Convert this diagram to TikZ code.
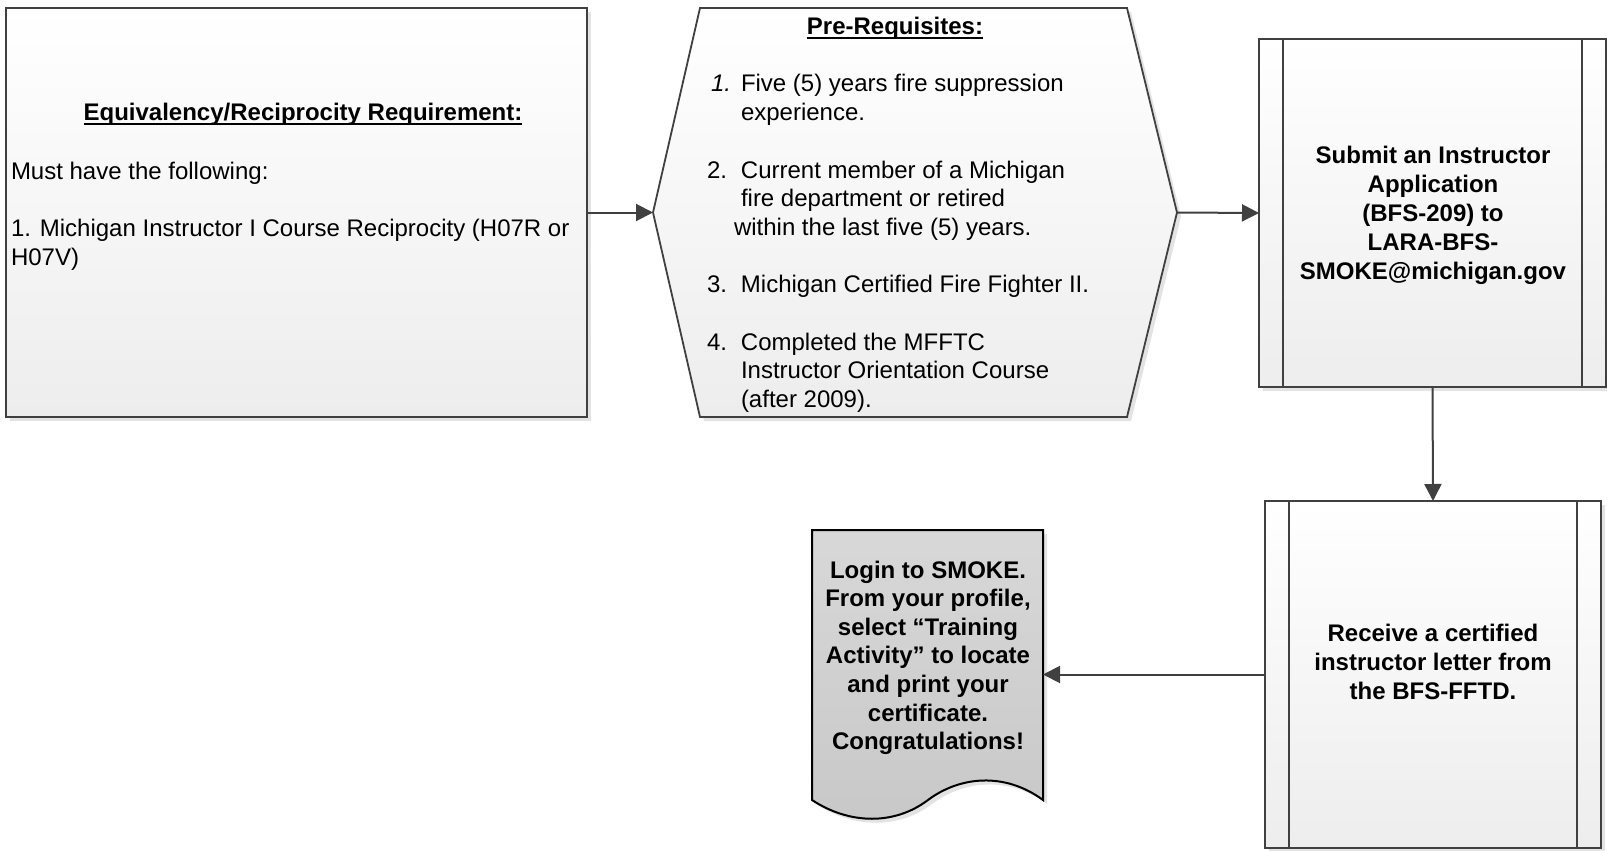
\documentclass[tikz,border=0pt]{standalone}
\usepackage{fontspec}
\setmainfont{Liberation Sans}
\usetikzlibrary{arrows.meta,calc,shadows}
\definecolor{lineC}{HTML}{404040}
\definecolor{shadebot}{HTML}{EDEDED}
\definecolor{docTop}{HTML}{D8D8D8}
\definecolor{docBot}{HTML}{C8C8C8}
\definecolor{shadowC}{HTML}{E3E3E3}
\newcommand\myul[1]{\setbox0\hbox{#1}\rlap{\rule[-4pt]{\wd0}{2pt}}\box0}
\begin{document}
\begin{tikzpicture}[x=1pt,y=-1pt,
  shapebox/.style={draw=lineC,line width=1.8pt,top color=white,bottom color=shadebot,
     drop shadow={shadow xshift=4pt,shadow yshift=-4pt,fill=shadowC,opacity=1}},
  ghost/.style={inner sep=0pt,outer sep=0pt},
  innerline/.style={draw=lineC,line width=1.8pt},
  txt/.style={inner sep=0pt,outer sep=0pt,font=\fontsize{24}{28.7}\selectfont},
  conn/.style={draw=lineC,line width=2pt,-{Triangle[length=17pt,width=17pt]}}]
\useasboundingbox (0,0) rectangle (1607,851);

% Box 1
\node[shapebox,ghost,minimum width=581pt,minimum height=409pt] (req) at (296.5,212.5) {};
% Hexagon
\node[ghost,minimum width=524pt,minimum height=409pt] (prereq) at (915,212.5) {};
\path[shapebox] (prereq.west) -- ($(prereq.north west)+(47,0)$) -- ($(prereq.north east)+(-50,0)$)
  -- (prereq.east) -- ($(prereq.south east)+(-50,0)$) -- ($(prereq.south west)+(47,0)$) -- cycle;
% Submit box
\node[shapebox,ghost,minimum width=347pt,minimum height=348pt] (submit) at (1432.5,213) {};
\draw[innerline] ($(submit.north west)+(24,0)$) -- ($(submit.south west)+(24,0)$);
\draw[innerline] ($(submit.north east)+(-24,0)$) -- ($(submit.south east)+(-24,0)$);
% Receive box
\node[shapebox,ghost,minimum width=336pt,minimum height=347pt] (receive) at (1433,674.5) {};
\draw[innerline] ($(receive.north west)+(24,0)$) -- ($(receive.south west)+(24,0)$);
\draw[innerline] ($(receive.north east)+(-24,0)$) -- ($(receive.south east)+(-24,0)$);
% Document
\node[ghost,minimum width=231pt,minimum height=270pt] (cert) at (927.5,665) {};
\path[draw=black,line width=2pt,top color=docTop,bottom color=docBot,
     drop shadow={shadow xshift=4pt,shadow yshift=-4pt,fill=shadowC,opacity=1}]
  (cert.south west) -- (cert.north west) -- (cert.north east) -- (cert.south east)
  .. controls ($(cert.south east)+(-38,-28)$) and ($(cert.south east)+(-83,-24)$) .. ($(cert.south east)+(-115,0)$)
  .. controls ($(cert.south east)+(-148,25)$) and ($(cert.south east)+(-193,25)$) .. (cert.south west) -- cycle;

% Texts
\node[txt,anchor=base] (reqtitle) at (303,121) {\bfseries\myul{Equivalency/Reciprocity Requirement:}};
\node[txt,anchor=base west] (reqbody) at (11,179) {\begin{tabular}[t]{@{}l@{}}
Must have the following:\\
\\
1. Michigan Instructor I Course Reciprocity (H07R or\\
H07V)
\end{tabular}};

\node[txt,anchor=base] (pretitle) at (895,35) {\bfseries\myul{Pre-Requisites:}};
\node[txt,anchor=base west] (prebody) at (707,92) {\begin{tabular}[t]{@{}p{34pt}@{}l@{}}
\hspace*{4pt}\textit{1.} & Five (5) years fire suppression\\
 & experience.\\
 & \\
2. & Current member of a Michigan\\
 & fire department or retired\\
 & \hspace*{-7pt}within the last five (5) years.\\
 & \\
3. & Michigan Certified Fire Fighter II.\\
 & \\
4. & Completed the MFFTC\\
 & Instructor Orientation Course\\
 & (after 2009).
\end{tabular}};

\node[txt,anchor=base,font=\fontsize{24}{29}\selectfont\bfseries] (submittxt) at (1433,163) {\begin{tabular}[t]{@{}c@{}}
Submit an Instructor\\
Application\\
(BFS-209) to\\
LARA-BFS-\\
SMOKE@michigan.gov
\end{tabular}};

\node[txt,anchor=base,font=\fontsize{24}{29}\selectfont\bfseries] (receivetxt) at (1433,641) {\begin{tabular}[t]{@{}c@{}}
Receive a certified\\
instructor letter from\\
the BFS-FFTD.
\end{tabular}};

\node[txt,anchor=base,font=\fontsize{24}{28.6}\selectfont\bfseries] (certtxt) at (928,578) {\begin{tabular}[t]{@{}c@{}}
Login to SMOKE.\\
From your profile,\\
select “Training\\
Activity” to locate\\
and print your\\
certificate.\\
Congratulations!
\end{tabular}};

% Connectors
\draw[conn] (req.east) -- (prereq.west);
\draw[conn] (prereq.east) -- (submit.west);
\draw[conn] (submit.south) -- (receive.north);
\draw[conn] (receive.west) -- (receive.west -| cert.east);
\end{tikzpicture}
\end{document}
